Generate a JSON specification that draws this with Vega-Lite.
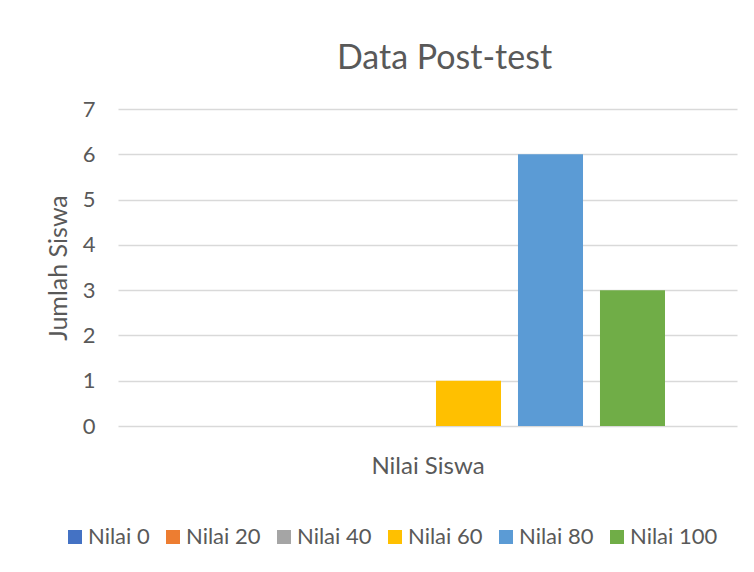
{
  "$schema": "https://vega.github.io/schema/vega-lite/v6.json",
  "width": 619,
  "height": 317,
  "autosize": {"type": "none"},
  "padding": {"left": 118, "top": 109, "right": 17, "bottom": 146},
  "background": "white",
  "title": {
    "text": "Data Post-test",
    "fontSize": 34,
    "font": "Lato",
    "fontWeight": "normal",
    "color": "#595959",
    "anchor": "middle",
    "dx": 17,
    "baseline": "alphabetic",
    "offset": -5
  },
  "data": {
    "values": [
      {"series": "Nilai 0", "jumlah": 0},
      {"series": "Nilai 20", "jumlah": 0},
      {"series": "Nilai 40", "jumlah": 0},
      {"series": "Nilai 60", "jumlah": 1},
      {"series": "Nilai 80", "jumlah": 6},
      {"series": "Nilai 100", "jumlah": 3}
    ]
  },
  "mark": {"type": "bar"},
  "encoding": {
    "x": {
      "field": "series",
      "type": "nominal",
      "sort": null,
      "scale": {
        "domain": ["Nilai 0", "Nilai 20", "Nilai 40", "Nilai 60", "Nilai 80", "Nilai 100"],
        "paddingInner": 0.207,
        "paddingOuter": 0.878
      },
      "axis": {
        "labels": false,
        "ticks": false,
        "domain": false,
        "grid": false,
        "title": "Nilai Siswa",
        "titleFont": "Lato",
        "titleFontSize": 24,
        "titleFontWeight": "normal",
        "titleColor": "#595959",
        "titlePadding": 28
      }
    },
    "y": {
      "field": "jumlah",
      "type": "quantitative",
      "scale": {"domain": [0, 7], "nice": false},
      "axis": {
        "values": [0, 1, 2, 3, 4, 5, 6, 7],
        "ticks": false,
        "domain": false,
        "grid": true,
        "gridColor": "#d9d9d9",
        "gridWidth": 1.5,
        "labelFont": "Lato",
        "labelFontSize": 22,
        "labelColor": "#595959",
        "labelPadding": 23,
        "title": "Jumlah Siswa",
        "titleFont": "Lato",
        "titleFontSize": 25,
        "titleFontWeight": "normal",
        "titleColor": "#595959",
        "titlePadding": 11
      }
    },
    "color": {
      "field": "series",
      "type": "nominal",
      "sort": null,
      "scale": {
        "domain": ["Nilai 0", "Nilai 20", "Nilai 40", "Nilai 60", "Nilai 80", "Nilai 100"],
        "range": ["#4472C4", "#ED7D31", "#A5A5A5", "#FFC000", "#5B9BD5", "#70AD47"]
      },
      "legend": {
        "title": null,
        "orient": "none",
        "direction": "horizontal",
        "legendX": -54,
        "legendY": 417,
        "symbolType": "square",
        "symbolSize": 196,
        "symbolStrokeWidth": 0,
        "symbolOpacity": 1,
        "labelFont": "Lato",
        "labelFontSize": 22,
        "labelColor": "#595959",
        "labelOffset": 2,
        "columnPadding": 12,
        "padding": 0
      }
    }
  },
  "config": {
    "view": {"stroke": null}
  }
}
